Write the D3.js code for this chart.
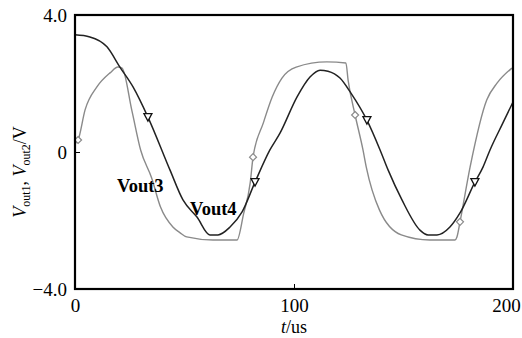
<!DOCTYPE html>
<html><head><meta charset="utf-8">
<script src="https://cdn.jsdelivr.net/npm/d3@7"></script>
<style>body{margin:0;background:#fff}svg{display:block}</style>
</head><body><svg id="c" width="522" height="338"></svg>
<script>
// Vout3 (gray) samples: time (us), voltage (V)
const vout3T = [0.5,1.4,4.6,10,16,19.6,21.5,26,30,35,39,44.7,48,51,63,74,77,80,81.3,86,90,94.5,101,115,123.7,124.7,127.9,131.5,133,139,149,162,173.5,174.4,175.8,180.4,188,192.7,199.5];
const vout3V = [0.26,0.35,1.23,1.90,2.31,2.48,2.45,1.2,0.05,-0.76,-1.6,-2.19,-2.36,-2.48,-2.57,-2.57,-1.8,-0.9,-0.15,0.85,1.6,2.16,2.48,2.63,2.6,2.1,1.08,0.06,-0.44,-1.69,-2.42,-2.57,-2.57,-2.48,-2.04,-0.44,1.52,2.01,2.45];
// Vout4 (black) samples
const vout4T = [0,6.8,14.6,20.5,26.5,33.3,43.4,49.3,55.7,61.6,65.3,70.8,76.3,82.2,89,93.6,101.4,107.3,111.9,115.5,121,126,133.3,139.3,143,149.3,157.5,161.2,165.3,171.2,175.8,182.6,186.3,189.5,195.4,200];
const vout4V = [3.42,3.36,3.07,2.48,1.90,1.02,-0.53,-1.40,-1.90,-2.42,-2.42,-2.19,-1.75,-0.88,0.06,0.55,1.61,2.19,2.39,2.36,2.16,1.72,0.93,0.06,-0.53,-1.40,-2.28,-2.42,-2.42,-2.19,-1.78,-0.88,-0.44,0.06,0.85,1.46];
// markers
const diamondT = [1.4,81.3,127.9,175.8];
const diamondV = [0.35,-0.15,1.08,-2.04];
const triT = [33.3,82.2,133.3,182.6];
const triV = [1.02,-0.88,0.93,-0.88];
// axis ticks
const xTicks = [0,100,200];
const xTickLabels = ["0","100","200"];
const yTicks = [-4,0,4];
const yTickLabels = ["\u22124.0","0","4.0"];

const svg = d3.select("#c");
const L=75,R=513,T=15,B=289;
const x = d3.scaleLinear().domain([0,200]).range([L,R]);
const y = d3.scaleLinear().domain([-4,4]).range([B,T]);
const font = "'Liberation Serif','Times New Roman',serif";

const d3s = vout3T.map((t,i)=>[t,vout3V[i]]);
const d4s = vout4T.map((t,i)=>[t,vout4V[i]]);
const line = d3.line().x(d=>x(d[0])).y(d=>y(d[1])).curve(d3.curveMonotoneX);

svg.append("path").attr("d",line(d3s)).attr("fill","none").attr("stroke","#8a8a8a").attr("stroke-width",1.4);
svg.append("path").attr("d",line(d4s)).attr("fill","none").attr("stroke","#222").attr("stroke-width",1.5);

// diamonds
svg.selectAll(".dia").data(diamondT).enter().append("path")
  .attr("d",(t,i)=>{const cx=x(t),cy=y(diamondV[i]),r=3.5;return `M${cx},${cy-r}L${cx+r},${cy}L${cx},${cy+r}L${cx-r},${cy}Z`;})
  .attr("fill","#fff").attr("stroke","#8a8a8a").attr("stroke-width",1.2);
// triangles (down)
svg.selectAll(".tri").data(triT).enter().append("path")
  .attr("d",(t,i)=>{const cx=x(t),cy=y(triV[i]);return `M${cx-4},${cy-3.5}L${cx+4},${cy-3.5}L${cx},${cy+4}Z`;})
  .attr("fill","#fff").attr("stroke","#111").attr("stroke-width",1.3);

// frame
svg.append("rect").attr("x",L).attr("y",T).attr("width",R-L).attr("height",B-T)
  .attr("fill","none").attr("stroke","#000").attr("stroke-width",2.2);

// axes via d3 axis, ticks inward
const xAxis = d3.axisBottom(x).tickValues(xTicks).tickFormat((d,i)=>xTickLabels[i]).tickSizeInner(-5).tickSizeOuter(0).tickPadding(10);
const gx = svg.append("g").attr("transform",`translate(0,${B})`).call(xAxis);
gx.select(".domain").remove();
gx.selectAll("line").attr("stroke","#000").attr("stroke-width",1);
gx.selectAll("text").attr("font-family",font).attr("font-size",19).attr("fill","#000")
  .attr("dx",(d,i)=>i===xTicks.length-1?-7:0);

const yAxis = d3.axisLeft(y).tickValues(yTicks).tickFormat((d,i)=>yTickLabels[i]).tickSizeInner(-5).tickSizeOuter(0).tickPadding(8);
const gy = svg.append("g").attr("transform",`translate(${L},0)`).call(yAxis);
gy.select(".domain").remove();
gy.selectAll("line").attr("stroke","#000").attr("stroke-width",1);
gy.selectAll("text").attr("font-family",font).attr("font-size",19).attr("fill","#000").attr("dy","0.35em");

// x label
const xl = svg.append("text").attr("x",294).attr("y",333).attr("text-anchor","middle").attr("font-family",font).attr("font-size",18);
xl.append("tspan").attr("font-style","italic").text("t");
xl.append("tspan").text("/us");

// y label
const yl = svg.append("text").attr("transform","translate(26,172) rotate(-90)").attr("text-anchor","middle").attr("font-family",font).attr("font-size",18);
yl.append("tspan").attr("font-style","italic").text("V");
yl.append("tspan").attr("font-size",12).attr("dy",4).text("out1");
yl.append("tspan").attr("dy",-4).text(", ");
yl.append("tspan").attr("font-style","italic").text("V");
yl.append("tspan").attr("font-size",12).attr("dy",4).text("out2");
yl.append("tspan").attr("dy",-4).text("/V");

// series labels
svg.append("text").attr("x",117).attr("y",192).attr("font-family",font).attr("font-weight","bold").attr("font-size",18.5).text("Vout3");
svg.append("text").attr("x",190).attr("y",215).attr("font-family",font).attr("font-weight","bold").attr("font-size",18.5).text("Vout4");
</script></body></html>
